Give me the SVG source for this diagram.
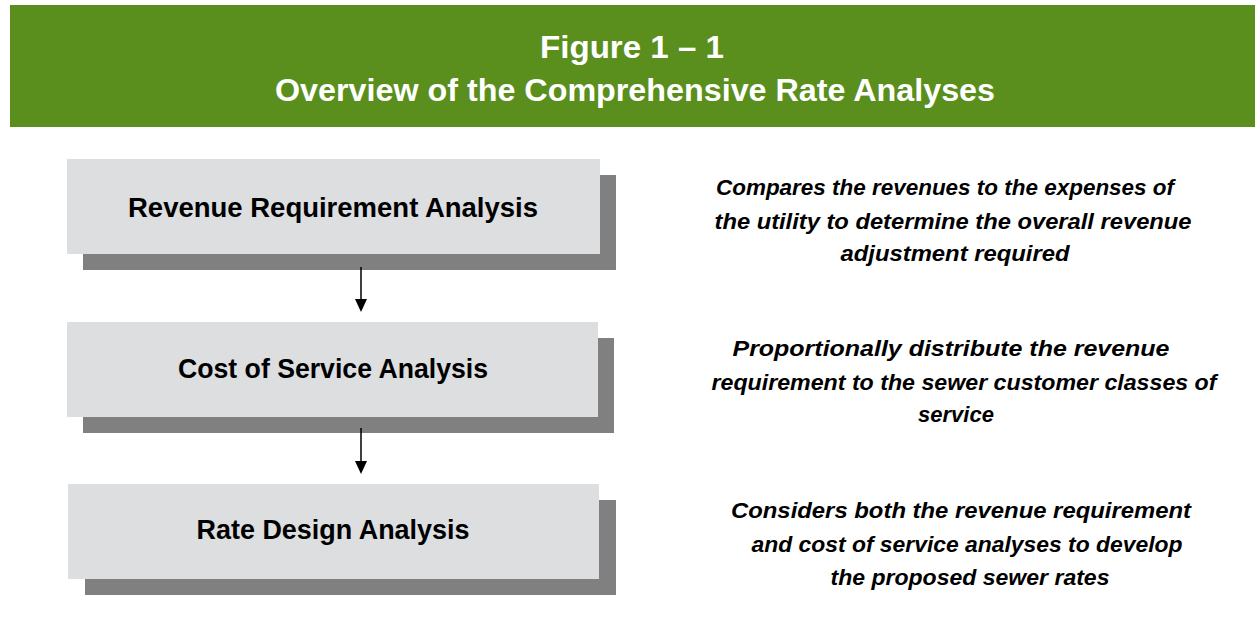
<svg xmlns="http://www.w3.org/2000/svg" width="1255" height="623" viewBox="0 0 1255 623">
<style>
.title{font-family:"Liberation Sans",Arial,sans-serif;font-weight:bold;font-size:32px;fill:#fff;text-anchor:middle}
.box{fill:#DDDEE0}
.shadow{fill:#808080}
.lbl{font-family:"Liberation Sans",Arial,sans-serif;font-weight:bold;font-size:27px;fill:#000;text-anchor:middle}
.desc{font-family:"Liberation Sans",Arial,sans-serif;font-weight:bold;font-style:italic;font-size:22px;fill:#000;text-anchor:middle}
.conn{stroke:#000;stroke-width:1.5;fill:none}
.head{fill:#000}
</style>
<rect width="1255" height="623" fill="#fff"/>
<g id="header">
<rect x="10" y="5" width="1245" height="122" fill="#5A8F1E"/>
<text class="title" x="632" y="58" textLength="184" lengthAdjust="spacingAndGlyphs">Figure 1 – 1</text>
<text class="title" x="635" y="101" textLength="720" lengthAdjust="spacingAndGlyphs">Overview of the Comprehensive Rate Analyses</text>
</g>
<g id="node-revenue">
<rect class="shadow" x="83" y="175" width="533" height="95"/>
<rect class="box" x="67" y="159" width="533" height="95"/>
<text class="lbl" x="333" y="217" textLength="410" lengthAdjust="spacingAndGlyphs">Revenue Requirement Analysis</text>
</g>
<g id="node-cos">
<rect class="shadow" x="83" y="338" width="531" height="95"/>
<rect class="box" x="67" y="322" width="531" height="95"/>
<text class="lbl" x="333" y="378" textLength="310" lengthAdjust="spacingAndGlyphs">Cost of Service Analysis</text>
</g>
<g id="node-rate">
<rect class="shadow" x="85" y="500" width="531" height="95"/>
<rect class="box" x="68" y="484" width="531" height="95"/>
<text class="lbl" x="333" y="539" textLength="273" lengthAdjust="spacingAndGlyphs">Rate Design Analysis</text>
</g>
<g id="connectors">
<line class="conn" x1="361" y1="267" x2="361" y2="300"/>
<path class="head" d="M355,299 L367,299 L361,312 Z"/>
<line class="conn" x1="361" y1="428" x2="361" y2="462"/>
<path class="head" d="M355,461 L367,461 L361,474 Z"/>
</g>
<g id="desc-revenue">
<text class="desc" x="945" y="195" textLength="458" lengthAdjust="spacingAndGlyphs">Compares the revenues to the expenses of</text>
<text class="desc" x="953" y="229" textLength="477" lengthAdjust="spacingAndGlyphs">the utility to determine the overall revenue</text>
<text class="desc" x="955" y="261" textLength="229" lengthAdjust="spacingAndGlyphs">adjustment required</text>
</g>
<g id="desc-cos">
<text class="desc" x="951" y="356" textLength="437" lengthAdjust="spacingAndGlyphs">Proportionally distribute the revenue</text>
<text class="desc" x="964" y="390" textLength="505" lengthAdjust="spacingAndGlyphs">requirement to the sewer customer classes of</text>
<text class="desc" x="956" y="422">service</text>
</g>
<g id="desc-rate">
<text class="desc" x="961" y="518" textLength="460" lengthAdjust="spacingAndGlyphs">Considers both the revenue requirement</text>
<text class="desc" x="967" y="552" textLength="431" lengthAdjust="spacingAndGlyphs">and cost of service analyses to develop</text>
<text class="desc" x="970" y="585" textLength="279" lengthAdjust="spacingAndGlyphs">the proposed sewer rates</text>
</g>
</svg>
